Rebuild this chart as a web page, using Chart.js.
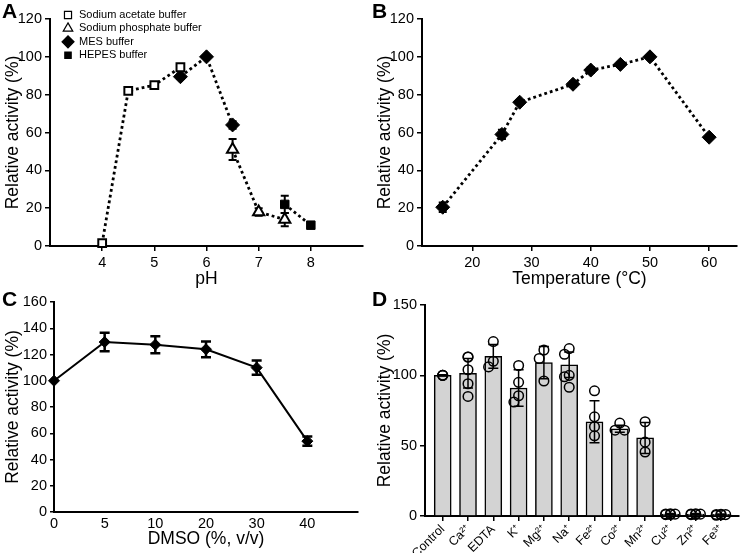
<!DOCTYPE html>
<html>
<head>
<meta charset="utf-8">
<script src="https://cdn.jsdelivr.net/npm/chart.js@4.4.0/dist/chart.umd.min.js"></script>
<style>
    body { margin: 0; background: #fff; width: 745px; height: 553px; position: relative; overflow: hidden; font-family: "Liberation Sans", Arial, sans-serif; }
    canvas { position: absolute; }
    .tag { position: absolute; font-weight: bold; font-size: 21px; line-height: 21px; }
</style>
</head>
<body>
<canvas id="chartA" width="372" height="293" style="left:0;top:0"></canvas>
<canvas id="chartB" width="373" height="293" style="left:372px;top:0"></canvas>
<canvas id="chartC" width="372" height="273" style="left:0;top:280px"></canvas>
<canvas id="chartD" width="373" height="273" style="left:372px;top:280px"></canvas>
<div class="tag" style="left:2px;top:0px">A</div>
<div class="tag" style="left:372px;top:0px">B</div>
<div class="tag" style="left:2px;top:288px">C</div>
<div class="tag" style="left:372px;top:288px">D</div>
<script>
// A: pH profile, one series per buffer
const acetatePH = [4, 4.5, 5, 5.5];
const acetateAct = [1.5, 82, 85, 94.5];
const acetateErr = [0.8, 1.5, 1.2, 1.2];
const phosphatePH = [6.5, 7, 7.5];
const phosphateAct = [51, 18, 14];
const phosphateErr = [5.5, 2, 3.5];
const mesPH = [5.5, 6, 6.5];
const mesAct = [89.5, 100, 64];
const mesErr = [1.2, 0.5, 2];
const hepesPH = [7.5, 8];
const hepesAct = [22, 11];
const hepesErr = [4.5, 1];
const pHTicks = [4, 5, 6, 7, 8];

// B: temperature profile
const temps = [15, 25, 28, 37, 40, 45, 50, 60];
const tempAct = [20.5, 59, 76, 85.5, 93, 96, 100, 57.5];
const tempErr = [2.5, 2.5, 1, 1.5, 1.5, 1, 0, 1];
const tempTicks = [20, 30, 40, 50, 60];

// C: DMSO tolerance
const dmsoLevels = [0, 5, 10, 20, 30, 40];
const dmsoAct = [100, 129.5, 127.5, 124, 110, 54];
const dmsoErr = [0, 7, 6.5, 6, 5.5, 3.5];

// D: metal ions / EDTA
const metals = ['Control', 'Ca²⁺', 'EDTA', 'K⁺', 'Mg²⁺', 'Na⁺', 'Fe²⁺', 'Co²⁺', 'Mn²⁺', 'Cu²⁺', 'Zn²⁺', 'Fe³⁺'];
const metalMean = [100, 101.5, 113.5, 91, 109, 107.5, 67, 62, 55.5, 1.3, 1.3, 1.1];
const metalSD = [0.5, 10.5, 8.5, 13, 11.5, 9, 15, 2.5, 11, 0.5, 0.5, 0.4];
const metalReps = [
    [100, 100, 100],
    [113, 113, 104, 94, 85],
    [124, 110, 106],
    [107, 95, 85.5, 81],
    [118, 112, 96],
    [119, 115, 100, 99, 91.5],
    [89, 70.5, 63.5, 57],
    [66, 61, 61],
    [67, 52.5, 45.5],
    [1.5, 1.4, 1, 1.1, 1.3],
    [1.5, 1.4, 1, 1.1, 1.3],
    [1, 1.1, 0.5, 0.9, 1.2]
];

Chart.defaults.font.family = '"Liberation Sans", Arial, sans-serif';
Chart.defaults.color = '#000';
Chart.defaults.animation = false;

const toPoints = (xs, ys) => xs.map((x, i) => ({ x: x, y: ys[i] }));

// error bars, drawn under or over the dataset
function drawErrors(chart, meta, ds) {
    const ctx = chart.ctx;
    const yScale = chart.scales[meta.yAxisID];
    ctx.save();
    ctx.strokeStyle = '#000';
    ctx.lineWidth = ds.errorLine || 2;
    meta.data.forEach((el, j) => {
        const e = ds.errors[j];
        if (!e) return;
        const v = ds.data[j].y;
        const top = yScale.getPixelForValue(v + e);
        const bot = yScale.getPixelForValue(v - e);
        const cap = ds.errorCap || 4;
        ctx.beginPath();
        ctx.moveTo(el.x, top); ctx.lineTo(el.x, bot);
        ctx.moveTo(el.x - cap, top); ctx.lineTo(el.x + cap, top);
        ctx.moveTo(el.x - cap, bot); ctx.lineTo(el.x + cap, bot);
        ctx.stroke();
    });
    ctx.restore();
}

const errorBars = {
    id: 'errorBars',
    beforeDatasetDraw(chart, args) {
        const ds = chart.data.datasets[args.index];
        if (ds.errors && ds.errorsBehind) drawErrors(chart, args.meta, ds);
    },
    afterDatasetDraw(chart, args) {
        const ds = chart.data.datasets[args.index];
        if (ds.errors && !ds.errorsBehind) drawErrors(chart, args.meta, ds);
    }
};

// legend of panel A, in the upper left of the plot
const bufferLegend = {
    id: 'bufferLegend',
    afterDraw(chart) {
        const ctx = chart.ctx;
        const x0 = chart.chartArea.left + 18;
        let y = 15;
        ctx.save();
        chart.data.datasets.forEach(ds => {
            ctx.fillStyle = ds.pointBackgroundColor;
            ctx.strokeStyle = '#000';
            ctx.lineWidth = 1.2;
            Chart.helpers.drawPoint(ctx, { pointStyle: ds.pointStyle, radius: ds.legendRadius, rotation: 0, borderWidth: 1.2 }, x0, y);
            ctx.fillStyle = '#000';
            ctx.font = '11px "Liberation Sans", Arial, sans-serif';
            ctx.textBaseline = 'middle';
            ctx.fillText(ds.label, x0 + 11, y);
            y += 13.4;
        });
        ctx.restore();
    }
};

function yScale(min, max, step, width, title, size, tickLen) {
    return {
        min: min, max: max,
        afterFit: s => { s.width = width; },
        border: { color: '#000', width: 2 },
        grid: { drawOnChartArea: false, color: '#000', lineWidth: 1.5, tickLength: tickLen },
        ticks: { stepSize: step, font: { size: size }, padding: 3 },
        title: { display: true, text: title, font: { size: 17.5 }, padding: { top: 3, bottom: 4 } }
    };
}

function xScale(min, max, ticks, height, title, size, tickLen, labelOf) {
    return {
        type: 'linear', min: min, max: max, offset: false,
        afterFit: s => { s.height = height; s.paddingLeft = 0; s.paddingRight = 0; },
        afterBuildTicks: s => { s.ticks = ticks.map(v => ({ value: v })); },
        border: { color: '#000', width: 2 },
        grid: { offset: false, drawOnChartArea: false, drawTicks: tickLen > 0, color: '#000', lineWidth: 1.5, tickLength: tickLen },
        ticks: { font: { size: size }, padding: 3, maxRotation: 0, autoSkip: false, callback: labelOf || (v => v) },
        title: { display: !!title, text: title, font: { size: 17.5 }, padding: { top: 4, bottom: 3 } }
    };
}

const dotted = { showLine: true, borderColor: '#000', borderWidth: 2.8, borderDash: [2.8, 3], tension: 0, clip: false, errorsBehind: true, errorCap: 4, errorLine: 2 };

// Panel A
new Chart(document.getElementById('chartA'), {
    type: 'scatter',
    data: {
        datasets: [
            Object.assign({}, dotted, { label: 'Sodium acetate buffer', data: toPoints(acetatePH, acetateAct), errors: acetateErr,
                pointStyle: 'rect', pointRadius: 5.5, pointBackgroundColor: '#fff', pointBorderColor: '#000', pointBorderWidth: 2, legendRadius: 5 }),
            Object.assign({}, dotted, { label: 'Sodium phosphate buffer', data: toPoints(phosphatePH, phosphateAct), errors: phosphateErr,
                pointStyle: 'triangle', pointRadius: 6.5, pointBackgroundColor: '#fff', pointBorderColor: '#000', pointBorderWidth: 2, legendRadius: 5.5 }),
            Object.assign({}, dotted, { label: 'MES buffer', data: toPoints(mesPH, mesAct), errors: mesErr,
                pointStyle: 'rectRot', pointRadius: 7, pointBackgroundColor: '#000', pointBorderColor: '#000', pointBorderWidth: 1, legendRadius: 6 }),
            Object.assign({}, dotted, { label: 'HEPES buffer', data: toPoints(hepesPH, hepesAct), errors: hepesErr,
                pointStyle: 'rect', pointRadius: 6, pointBackgroundColor: '#000', pointBorderColor: '#000', pointBorderWidth: 1, legendRadius: 4.5 })
        ]
    },
    options: {
        responsive: false,
        layout: { padding: { top: 19, right: 9, left: 0, bottom: 0 } },
        plugins: { legend: { display: false }, tooltip: { enabled: false } },
        scales: {
            x: xScale(3, 9, pHTicks, 47, 'pH', 14.5, 5),
            y: yScale(0, 120, 20, 50, 'Relative activity (%)', 14.5, 5)
        }
    },
    plugins: [errorBars, bufferLegend]
});

// Panel B
new Chart(document.getElementById('chartB'), {
    type: 'scatter',
    data: {
        datasets: [
            Object.assign({}, dotted, { label: 'Temperature', data: toPoints(temps, tempAct), errors: tempErr,
                pointStyle: 'rectRot', pointRadius: 7, pointBackgroundColor: '#000', pointBorderColor: '#000', pointBorderWidth: 1 })
        ]
    },
    options: {
        responsive: false,
        layout: { padding: { top: 19, right: 6, left: 0, bottom: 0 } },
        plugins: { legend: { display: false }, tooltip: { enabled: false } },
        scales: {
            x: xScale(11.5, 64.7, tempTicks, 47, 'Temperature (°C)', 14.5, 5),
            y: yScale(0, 120, 20, 50, 'Relative activity (%)', 14.5, 5)
        }
    },
    plugins: [errorBars]
});

// Panel C
new Chart(document.getElementById('chartC'), {
    type: 'scatter',
    data: {
        datasets: [{
            label: 'DMSO', data: toPoints(dmsoLevels.map((v, i) => i), dmsoAct), errors: dmsoErr,
            showLine: true, borderColor: '#000', borderWidth: 2, tension: 0, clip: false,
            pointStyle: 'rectRot', pointRadius: 5.5, pointBackgroundColor: '#000', pointBorderColor: '#000', pointBorderWidth: 1,
            errorCap: 5, errorLine: 2.5
        }]
    },
    options: {
        responsive: false,
        layout: { padding: { top: 22, right: 14, left: 0, bottom: 0 } },
        plugins: { legend: { display: false }, tooltip: { enabled: false } },
        scales: {
            x: xScale(0, 6, dmsoLevels.map((v, i) => i), 41, 'DMSO (%, v/v)', 14.5, 0, v => dmsoLevels[v]),
            y: yScale(0, 160, 20, 54, 'Relative activity (%)', 14.5, 4)
        }
    },
    plugins: [errorBars]
});

// Panel D: replicate circles spread sideways so they do not hide each other
function swarm(groups, r, xUnitPx, yUnitPx) {
    const pts = [];
    groups.forEach((vals, i) => {
        const placed = [];
        const cands = [0, -r, r];
        vals.slice().sort((a, b) => b - a).forEach(v => {
            let best = cands[0], bestD = -1;
            const same = placed.find(p => p.v === v && p.dx === 0);
            if (same) {
                best = 0;
            } else {
                for (const c of cands) {
                    let d = Infinity;
                    placed.forEach(p => { d = Math.min(d, Math.hypot(p.dx - c, (p.v - v) * yUnitPx)); });
                    if (d >= 2 * r * 0.95) { best = c; break; }
                    if (d > bestD) { bestD = d; best = c; }
                }
            }
            placed.push({ dx: best, v: v });
            pts.push({ x: i + best / xUnitPx, y: v });
        });
    });
    return pts;
}

const xD = xScale(-0.7, 11.7, metals.map((m, i) => i), 37, '', 12.5, 5, v => metals[v]);
xD.ticks.minRotation = 45;
xD.ticks.maxRotation = 45;
xD.ticks.padding = 1;

new Chart(document.getElementById('chartD'), {
    type: 'bar',
    data: {
        datasets: [
            {
                type: 'scatter', label: 'replicates', data: swarm(metalReps, 4.75, 25.5, 211 / 150),
                pointStyle: 'circle', pointRadius: 4.8, pointBackgroundColor: 'rgba(0,0,0,0)', pointBorderColor: '#000', pointBorderWidth: 1.5,
                clip: false, order: 0
            },
            {
                label: 'mean', data: toPoints(metals.map((m, i) => i), metalMean), errors: metalSD,
                backgroundColor: '#d3d3d3', borderColor: '#000', borderWidth: 1.5, barThickness: 17,
                errorCap: 5, errorLine: 1.5, order: 1
            }
        ]
    },
    options: {
        responsive: false,
        layout: { padding: { top: 25, right: 3, left: 0, bottom: 0 } },
        plugins: { legend: { display: false }, tooltip: { enabled: false } },
        scales: {
            x: xD,
            y: yScale(0, 150, 50, 53, 'Relative activity (%)', 14.5, 5)
        }
    },
    plugins: [errorBars]
});
</script>
</body>
</html>
